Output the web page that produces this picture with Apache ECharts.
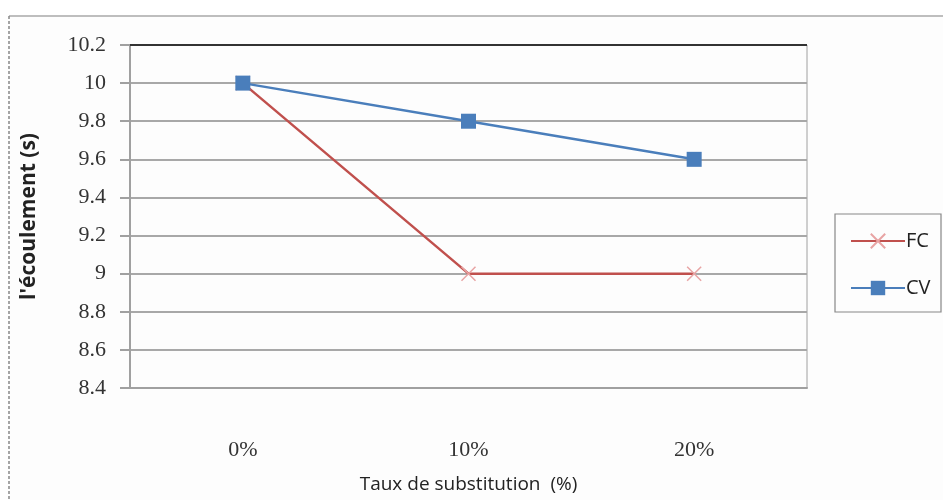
<!DOCTYPE html>
<html><head><meta charset="utf-8">
<script src="https://cdn.jsdelivr.net/npm/echarts@6/dist/echarts.min.js"></script>
<style>html,body{margin:0;padding:0;background:#fff}#c{width:943px;height:500px}</style>
</head><body><div id="c"></div>
<script>
const categories = ['0%', '10%', '20%'];
const fcValues = [10, 9, 9];
const cvValues = [10, 9.8, 9.6];
const yTicks = [8.4, 8.6, 8.8, 9, 9.2, 9.4, 9.6, 9.8, 10, 10.2];

const chart = echarts.init(document.getElementById('c'));
const crossPath = 'path://M0,0L10,10M10,0L0,10';
chart.setOption({
  animation: false,
  backgroundColor: '#fdfdfd',
  graphic: [
    {type:'rect', shape:{x:0,y:0,width:943,height:16}, style:{fill:'#ffffff'}, silent:true, z:-10},
    {type:'rect', shape:{x:0,y:0,width:9,height:500}, style:{fill:'#ffffff'}, silent:true, z:-10},
    {type:'line', shape:{x1:9,y1:16,x2:943,y2:16}, style:{stroke:'#a8a8a8', lineWidth:1.5}},
    {type:'line', shape:{x1:9,y1:16,x2:9,y2:500}, style:{stroke:'#888', lineWidth:1.5, lineDash:[3,2]}},
    {type:'rect', shape:{x:835,y:214,width:106,height:98}, style:{fill:'#fdfdfd', stroke:'#888', lineWidth:1.2}, z:1},
    {type:'line', shape:{x1:130,y1:45,x2:807,y2:45}, style:{stroke:'#333', lineWidth:2}, z:5}
  ],
  legend: {
    orient: 'vertical', left: 845, top: 226, itemGap: 27,
    itemWidth: 54, itemHeight: 18,
    textStyle: {fontFamily: 'Open Sans', fontSize: 20, color: '#222', padding: [0,0,0,-4]},
    data: ['FC', 'CV']
  },
  grid: {left: 130, right: 136, top: 45, bottom: 112, show: true, borderColor: '#a0a0a0', borderWidth: 1,
         containLabel: false, outerBoundsMode: 'none'},
  xAxis: {
    type: 'category', data: categories, boundaryGap: true,
    axisLine: {show: true, lineStyle: {color: '#a0a0a0', width: 2}},
    axisTick: {show: false},
    axisLabel: {margin: 51, fontFamily: 'Liberation Serif', fontSize: 22, color: '#333'},
    name: 'Taux de substitution  (%)', nameLocation: 'middle', nameGap: 87,
    nameTextStyle: {fontFamily: 'Open Sans', fontSize: 19, color: '#222'}
  },
  yAxis: {
    type: 'value', min: 8.4, max: 10.2, interval: 0.2,
    axisLine: {show: true, lineStyle: {color: '#a0a0a0', width: 2}},
    axisTick: {show: true, length: 10, inside: false, lineStyle: {color: '#a0a0a0', width: 2}},
    splitLine: {show: true, lineStyle: {color: '#a8a8a8', width: 2}},
    axisLabel: {margin: 24, fontFamily: 'Liberation Serif', fontSize: 22, color: '#333',
      formatter: v => { const t = yTicks.find(x => Math.abs(x - v) < 1e-6); return t === undefined ? '' : String(t); }},
    name: "l'écoulement (s)", nameLocation: 'middle', nameGap: 90, nameRotate: 90,
    nameTextStyle: {fontFamily: 'Open Sans', fontSize: 21, fontWeight: 'bold', color: '#222'}
  },
  series: [
    {name: 'FC', type: 'line', data: fcValues, symbol: crossPath, symbolSize: 14,
     lineStyle: {color: '#c0504d', width: 2.5},
     itemStyle: {color: 'rgba(0,0,0,0)', borderColor: '#e8a4a4', borderWidth: 1.5}, z: 3},
    {name: 'CV', type: 'line', data: cvValues, symbol: 'rect', symbolSize: 15,
     lineStyle: {color: '#4a7ebb', width: 2.5},
     itemStyle: {color: '#4a7ebb'}, z: 4}
  ]
});
</script></body></html>
